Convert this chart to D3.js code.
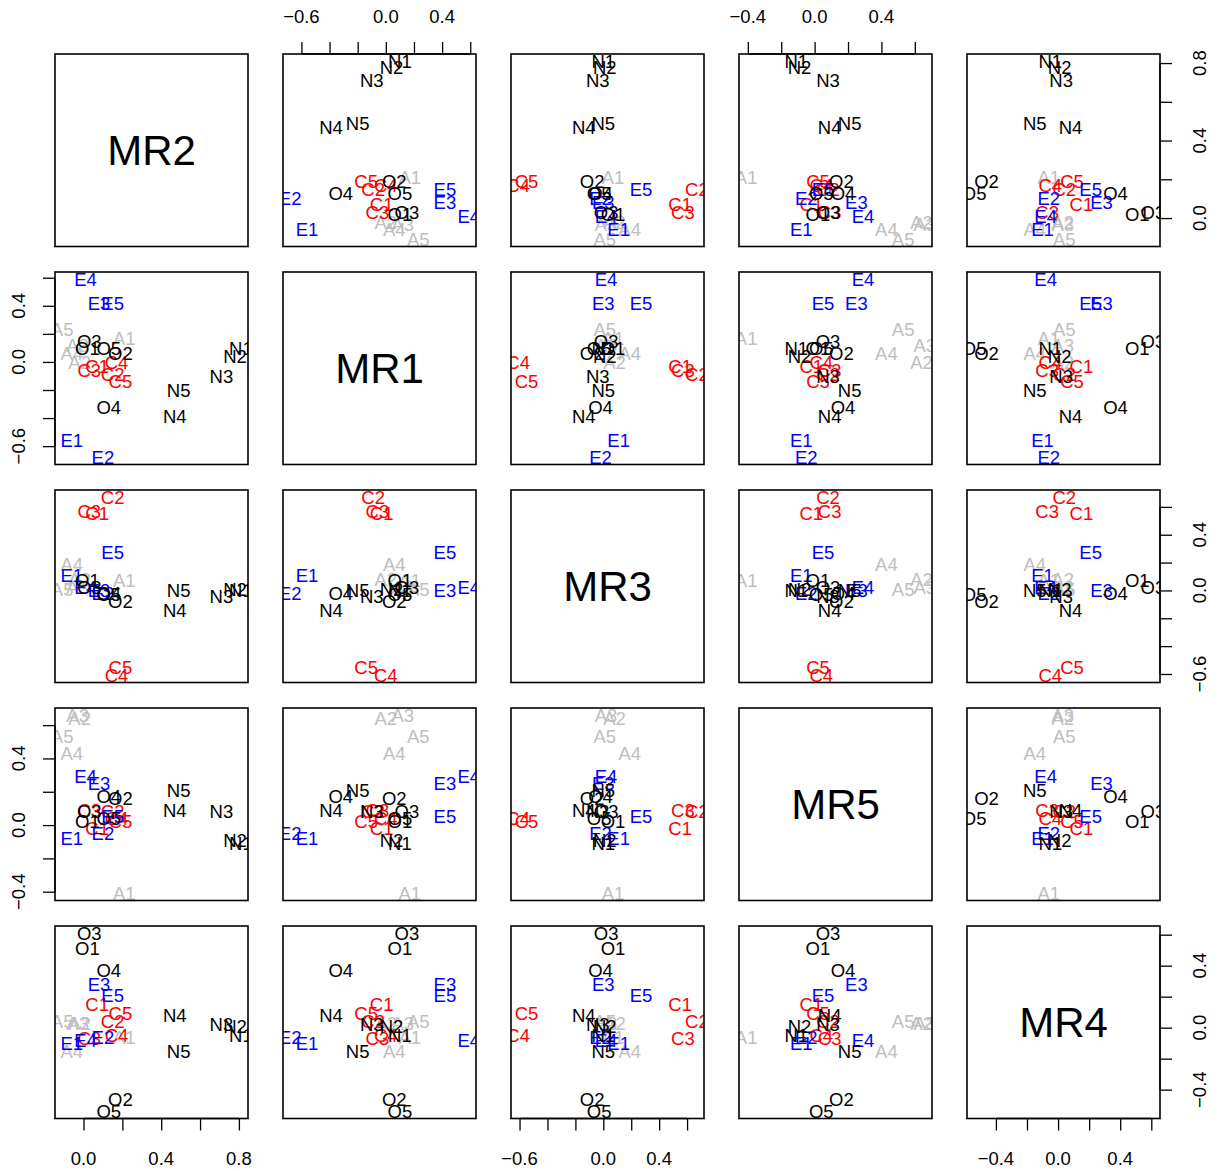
<!DOCTYPE html>
<html><head><meta charset="utf-8">
<script src="https://cdn.jsdelivr.net/npm/d3@7"></script>
<style>
body{margin:0;background:#fff}
svg text{font-family:"Liberation Sans",Arial,Helvetica,sans-serif}
</style>
</head><body>
<svg id="chart" width="1222" height="1171"></svg>
<script>
// ---- data ----
const factors = ["MR2", "MR1", "MR3", "MR5", "MR4"];
const items = ["A1","A2","A3","A4","A5","C1","C2","C3","C4","C5","E1","E2","E3","E4","E5","N1","N2","N3","N4","N5","O1","O2","O3","O4","O5"];
const MR2 = [0.21,-0.02,-0.03,-0.06,-0.11, 0.07,0.15,0.03,0.17,0.19, -0.06,0.10,0.08,0.01,0.15, 0.81,0.78,0.71,0.47,0.49, 0.02,0.19,0.03,0.13,0.13];
const MR1 = [0.17,0.00,0.12,0.06,0.23, -0.03,-0.09,-0.06,0.00,-0.14, -0.56,-0.68,0.42,0.59,0.42, 0.10,0.04,-0.10,-0.39,-0.20, 0.10,0.06,0.15,-0.32,0.10];
const MR3 = [0.07,0.08,0.02,0.19,0.01, 0.55,0.67,0.57,-0.61,-0.55, 0.11,-0.02,0.00,0.02,0.27, 0.00,0.01,-0.04,-0.14,0.00, 0.07,-0.08,0.02,-0.02,-0.03];
const MR5 = [-0.41,0.64,0.66,0.43,0.53, -0.02,0.08,0.09,0.04,0.02, -0.08,-0.05,0.25,0.29,0.05, -0.11,-0.09,0.08,0.09,0.21, 0.02,0.16,0.08,0.17,0.04];
const MR4 = [-0.06,0.03,0.03,-0.15,0.04, 0.15,0.04,-0.07,-0.05,0.09, -0.10,-0.06,0.28,-0.08,0.21, -0.05,0.01,0.02,0.08,-0.15, 0.51,-0.46,0.61,0.37,-0.54];
const groupColors = {A:"#BEBEBE", C:"#FF0000", E:"#0000FF", N:"#000000", O:"#000000"};
const tickValues = {
  MR2:[0,0.2,0.4,0.6,0.8],
  MR1:[-0.6,-0.4,-0.2,0,0.2,0.4,0.6],
  MR3:[-0.6,-0.4,-0.2,0,0.2,0.4,0.6],
  MR5:[-0.4,-0.2,0,0.2,0.4,0.6],
  MR4:[-0.4,-0.2,0,0.2,0.4,0.6]
};
const tickLabels = {
  MR2:[0,0.4,0.8],
  MR1:[-0.6,0,0.4],
  MR3:[-0.6,0,0.4],
  MR5:[-0.4,0,0.4],
  MR4:[-0.4,0,0.4]
};
const loadings = {MR2, MR1, MR3, MR5, MR4};

// ---- layout ----
const svg = d3.select("#chart");
const defs = svg.append("defs");
const n = factors.length;
const colLeft = j => 55 + j*228;
const rowTop = i => 54 + i*218;
const W = 193, H = 192.5;
const fs = 18.5;
const tickLen = 12;
const fmt = v => (v < 0 ? "\u2212" : "") + Math.abs(v).toFixed(1);

function paddedDomain(arr){
  const [lo, hi] = d3.extent(arr);
  const p = (hi - lo) * 0.04;
  return [lo - p, hi + p];
}
const domains = {};
factors.forEach(f => domains[f] = paddedDomain(loadings[f]));

const rows = items.map((it, k) => ({id: it, grp: it[0], vals: factors.map(f => loadings[f][k])}));

function styleAxis(ax){
  ax.select(".domain").remove();
  ax.selectAll("line").attr("stroke", "#000").attr("stroke-width", 1.3);
}

for (let i = 0; i < n; i++) {
  for (let j = 0; j < n; j++) {
    const x0 = colLeft(j), y0 = rowTop(i);
    const xs = d3.scaleLinear().domain(domains[factors[j]]).range([x0, x0 + W]);
    const ys = d3.scaleLinear().domain(domains[factors[i]]).range([y0 + H, y0]);
    const cid = `clip-${i}-${j}`;
    defs.append("clipPath").attr("id", cid).append("rect")
      .attr("x", x0).attr("y", y0).attr("width", W).attr("height", H);
    const g = svg.append("g").attr("clip-path", `url(#${cid})`);
    if (i === j) {
      g.append("text").attr("x", x0 + W/2).attr("y", y0 + H/2).attr("dy", "0.36em")
        .attr("text-anchor", "middle").attr("font-size", 42).attr("fill", "#000")
        .text(factors[i]);
    } else {
      g.selectAll("text.pt").data(rows).join("text").attr("class", "pt")
        .attr("x", d => xs(d.vals[j])).attr("y", d => ys(d.vals[i])).attr("dy", "0.36em")
        .attr("text-anchor", "middle").attr("font-size", fs)
        .attr("fill", d => groupColors[d.grp]).text(d => d.id);
    }
    svg.append("rect").attr("x", x0).attr("y", y0).attr("width", W).attr("height", H)
      .attr("fill", "none").attr("stroke", "#000").attr("stroke-width", 1.6);

    const fx = factors[j], fy = factors[i];
    const tvx = tickValues[fx], tvy = tickValues[fy];
    if (i === 0 && j % 2 === 1) {
      const ax = svg.append("g").attr("transform", `translate(0,${y0})`)
        .call(d3.axisTop(xs).tickValues(tvx).tickFormat("").tickSize(tickLen).tickSizeOuter(0));
      styleAxis(ax);
      ax.append("line").attr("x1", xs(tvx[0])).attr("x2", xs(tvx[tvx.length-1]))
        .attr("stroke", "#000").attr("stroke-width", 1.3);
      svg.selectAll(null).data(tickLabels[fx]).join("text")
        .attr("x", d => xs(d)).attr("y", y0 - 38).attr("dy", "0.36em").attr("text-anchor", "middle")
        .attr("font-size", fs).attr("fill", "#000").text(fmt);
    }
    if (i === n-1 && j % 2 === 0) {
      const ax = svg.append("g").attr("transform", `translate(0,${y0 + H})`)
        .call(d3.axisBottom(xs).tickValues(tvx).tickFormat("").tickSize(tickLen).tickSizeOuter(0));
      styleAxis(ax);
      ax.append("line").attr("x1", xs(tvx[0])).attr("x2", xs(tvx[tvx.length-1]))
        .attr("stroke", "#000").attr("stroke-width", 1.3);
      svg.selectAll(null).data(tickLabels[fx]).join("text")
        .attr("x", d => xs(d)).attr("y", y0 + H + 39.5).attr("dy", "0.36em").attr("text-anchor", "middle")
        .attr("font-size", fs).attr("fill", "#000").text(fmt);
    }
    if (j === 0 && i % 2 === 1) {
      const ax = svg.append("g").attr("transform", `translate(${x0},0)`)
        .call(d3.axisLeft(ys).tickValues(tvy).tickFormat("").tickSize(tickLen).tickSizeOuter(0));
      styleAxis(ax);
      ax.append("line").attr("y1", ys(tvy[0])).attr("y2", ys(tvy[tvy.length-1]))
        .attr("stroke", "#000").attr("stroke-width", 1.3);
      svg.selectAll(null).data(tickLabels[fy]).join("text")
        .attr("transform", d => `translate(${x0 - 37},${ys(d)}) rotate(-90)`).attr("dy", "0.36em")
        .attr("text-anchor", "middle").attr("font-size", fs).attr("fill", "#000").text(fmt);
    }
    if (j === n-1 && i % 2 === 0) {
      const ax = svg.append("g").attr("transform", `translate(${x0 + W},0)`)
        .call(d3.axisRight(ys).tickValues(tvy).tickFormat("").tickSize(tickLen).tickSizeOuter(0));
      styleAxis(ax);
      ax.append("line").attr("y1", ys(tvy[0])).attr("y2", ys(tvy[tvy.length-1]))
        .attr("stroke", "#000").attr("stroke-width", 1.3);
      svg.selectAll(null).data(tickLabels[fy]).join("text")
        .attr("transform", d => `translate(${x0 + W + 39},${ys(d)}) rotate(-90)`).attr("dy", "0.36em")
        .attr("text-anchor", "middle").attr("font-size", fs).attr("fill", "#000").text(fmt);
    }
  }
}
</script>
</body></html>
